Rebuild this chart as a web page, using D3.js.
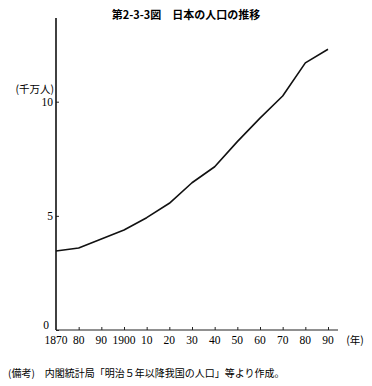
<!DOCTYPE html>
<html>
<head>
<meta charset="utf-8">
<script src="https://cdn.jsdelivr.net/npm/d3@7"></script>
<style>
  body { margin: 0; background: #fff; }
  svg { display: block; }
</style>
</head>
<body>
<div id="chart"></div>
<script>
// Population of Japan (ten millions)
const years = [1870, 1880, 1890, 1900, 1910, 1920, 1930, 1940, 1950, 1960, 1970, 1980, 1990];
const population = [3.46, 3.59, 3.99, 4.38, 4.92, 5.55, 6.45, 7.15, 8.25, 9.28, 10.25, 11.7, 12.3];
const xTickLabels = ["1870", "80", "90", "1900", "10", "20", "30", "40", "50", "60", "70", "80", "90"];
const yTicks = [0, 5, 10];

const W = 372, H = 386;
const SERIF = "'Liberation Serif', 'DejaVu Serif', serif";
const JP = "'Noto Sans CJK JP', sans-serif";

const svg = d3.select("#chart")
    .append("svg")
    .attr("width", W)
    .attr("height", H);

const x = d3.scaleLinear().domain([1870, 1990]).range([56, 328]);
const y = d3.scaleLinear().domain([0, 10]).range([330, 101.7]);

// Title
svg.append("text")
    .attr("font-family", JP)
    .attr("x", 186)
    .attr("y", 19)
    .attr("text-anchor", "middle")
    .attr("font-size", 11)
    .attr("font-weight", "bold")
    .text("第2-3-3図　日本の人口の推移");

// Y axis
const yAxis = svg.append("g")
    .attr("transform", `translate(${x(1870)},0)`)
    .call(d3.axisRight(y).tickValues(yTicks).tickSize(3).tickFormat(""));
yAxis.select(".domain").remove();
yAxis.selectAll(".tick line").attr("stroke", "#222");
svg.append("line")
    .attr("x1", x(1870)).attr("x2", x(1870))
    .attr("y1", 18).attr("y2", y(0))
    .attr("stroke", "#111").attr("stroke-width", 1.6);

svg.selectAll(".ylab")
    .data(yTicks)
    .enter()
    .append("text")
    .attr("font-family", SERIF)
    .attr("x", d => d === 0 ? 49 : 53)
    .attr("y", d => y(d) + (d === 0 ? -1 : 4))
    .attr("text-anchor", "end")
    .attr("font-size", 11.5)
    .text(d => d);

svg.append("text")
    .attr("font-family", JP)
    .attr("x", 54)
    .attr("y", 93)
    .attr("text-anchor", "end")
    .attr("font-size", 10.5)
    .text("(千万人)");

// X axis
const xAxis = svg.append("g")
    .attr("transform", `translate(0,${y(0)})`)
    .call(d3.axisTop(x).tickValues(years.slice(1)).tickSize(3).tickFormat(""));
xAxis.select(".domain").remove();
xAxis.selectAll(".tick line").attr("stroke", "#222");
svg.append("line")
    .attr("x1", x(1870)).attr("x2", 338)
    .attr("y1", y(0)).attr("y2", y(0))
    .attr("stroke", "#222").attr("stroke-width", 1.2);

svg.selectAll(".xlab")
    .data(years)
    .enter()
    .append("text")
    .attr("font-family", SERIF)
    .attr("x", d => x(d))
    .attr("y", 344)
    .attr("text-anchor", "middle")
    .attr("font-size", 11.5)
    .text((d, i) => xTickLabels[i]);

svg.append("text")
    .attr("font-family", JP)
    .attr("x", 355)
    .attr("y", 344)
    .attr("text-anchor", "middle")
    .attr("font-size", 10.5)
    .text("(年)");

// Line
const line = d3.line()
    .x((d, i) => x(years[i]))
    .y(d => y(d));

svg.append("path")
    .datum(population)
    .attr("fill", "none")
    .attr("stroke", "#111")
    .attr("stroke-width", 1.6)
    .attr("stroke-linejoin", "round")
    .attr("d", line);

// Note
svg.append("text")
    .attr("font-family", JP)
    .attr("x", 8)
    .attr("y", 377)
    .attr("font-size", 10)
    .text("(備考)　内閣統計局「明治５年以降我国の人口」等より作成。");
</script>
</body>
</html>
